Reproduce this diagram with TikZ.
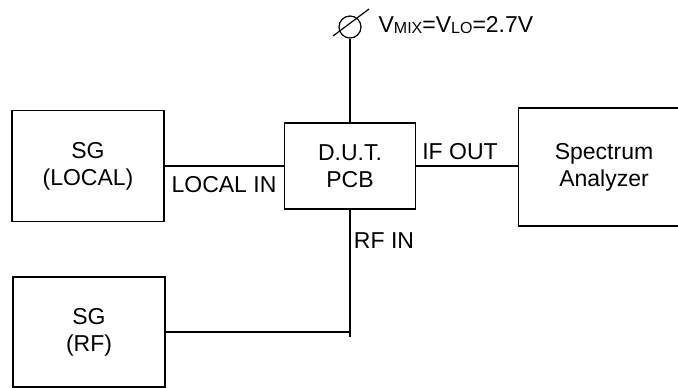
\documentclass[tikz,border=0pt]{standalone}
\usepackage{fontspec}
\setmainfont{Liberation Sans}
\begin{document}
\begin{tikzpicture}[x=1pt,y=-1pt,line width=1.2pt,
  box/.style={draw,align=center,inner sep=0pt,font=\fontsize{23}{27}\selectfont},
  lbl/.style={inner sep=0pt,font=\fontsize{23}{27}\selectfont}]
\useasboundingbox (0,0) rectangle (678,388);
% Geraete (Kaesten)
\node[box,minimum width=152,minimum height=111] (sgloc) at ( 88,166) {SG\\(LOCAL)};
\node[box,minimum width=131,minimum height=86]  (dut)   at (350,166) {D.U.T.\\PCB};
\node[box,minimum width=171,minimum height=118] (sa)    at (604,167) {Spectrum\\Analyzer};
\node[box,minimum width=152,minimum height=110] (sgrf)  at ( 89,332) {SG\\(RF)};
% Versorgung (Klemme oben)
\node[draw,circle,minimum size=22,inner sep=0pt] (vsup) at (350,27) {};
\coordinate (rfj) at (350,337);
% Verbindungen
\draw (sgloc.east) -- (sgloc.east -| dut.west);
\draw (dut.east) -- (dut.east -| sa.west);
\draw (dut.north) -- (vsup.south);
\draw (dut.south) -- (rfj);
\draw (sgrf.east) -- (sgrf.east -| rfj);
\draw ([shift={(-17,9)}]vsup.center) -- ([shift={(19,-18)}]vsup.center);
% Beschriftungen
\node[lbl] (lin) at (224,185) {LOCAL IN};
\node[lbl] (ifo) at (460,152) {IF OUT};
\node[lbl] (rfi) at (384,241) {RF IN};
\node[lbl,anchor=base west] (vmix) at (378,32)
  {V\raisebox{-1pt}{\fontsize{16}{18}\selectfont MIX}=V\raisebox{-1pt}{\fontsize{16}{18}\selectfont LO}=2.7V};
\end{tikzpicture}
\end{document}
